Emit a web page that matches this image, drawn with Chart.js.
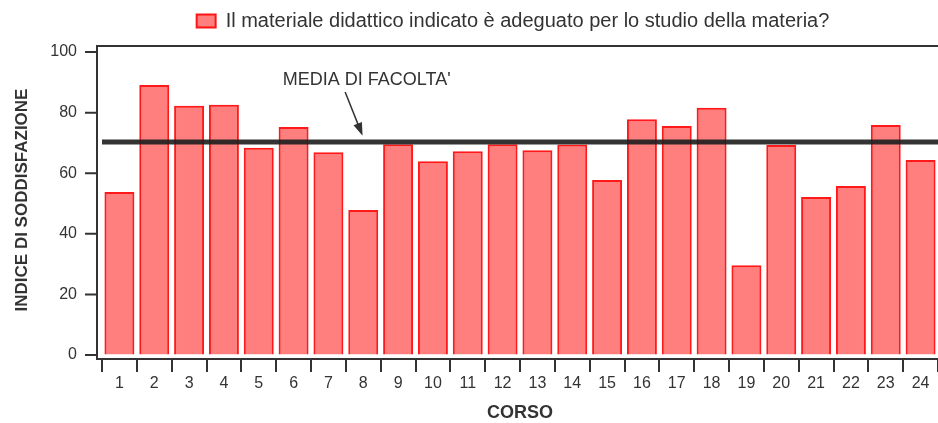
<!DOCTYPE html>
<html>
<head>
<meta charset="utf-8">
<script src="https://cdn.jsdelivr.net/npm/chart.js@4/dist/chart.umd.min.js"></script>
<style>
  body { margin: 0; background: #fff; }
  #wrap { width: 938px; height: 423px; }
</style>
</head>
<body>
<div id="wrap"><canvas id="chart" width="938" height="423"></canvas></div>
<script>
// dati
const corsi = ['1','2','3','4','5','6','7','8','9','10','11','12','13','14','15','16','17','18','19','20','21','22','23','24'];
const indici = [53.8, 89.1, 82.3, 82.6, 68.4, 75.3, 66.9, 47.9, 69.6, 64.0, 67.3, 69.6, 67.6, 69.5, 57.8, 77.8, 75.6, 81.6, 29.6, 69.3, 52.2, 55.8, 75.9, 64.4];
const mediaFacolta = 70.3;
const tickY = [0, 20, 40, 60, 80, 100];
const etichettaMedia = "MEDIA DI FACOLTA'";

const font = '"Liberation Sans", Arial, sans-serif';
const grigio = '#333';

// cornice, linea della media e freccia
const extra = {
  id: 'extra',
  afterDatasetsDraw(chart) {
    const { ctx, chartArea: a, scales: { y } } = chart;
    ctx.save();
    // linea media
    ctx.strokeStyle = 'rgba(30,30,30,0.9)';
    ctx.lineWidth = 5;
    ctx.beginPath();
    ctx.moveTo(a.left, y.getPixelForValue(mediaFacolta));
    ctx.lineTo(a.right, y.getPixelForValue(mediaFacolta));
    ctx.stroke();
    ctx.restore();
  },
  afterDraw(chart) {
    const { ctx, chartArea: a, scales: { x, y } } = chart;
    const ax = a.left - 5;
    const top = y.getPixelForValue(102);
    ctx.save();
    ctx.strokeStyle = grigio;
    ctx.lineWidth = 2;
    ctx.beginPath();
    ctx.moveTo(ax, a.bottom);
    ctx.lineTo(ax, top);
    ctx.lineTo(a.right, top);
    ctx.moveTo(ax - 1, a.bottom);
    ctx.lineTo(a.left, a.bottom);
    tickY.forEach(v => {
      const py = y.getPixelForValue(v);
      ctx.moveTo(ax - 12, py);
      ctx.lineTo(ax, py);
    });
    ctx.stroke();

    // testo e freccia
    ctx.fillStyle = grigio;
    ctx.font = '18px ' + font;
    ctx.textAlign = 'center';
    ctx.textBaseline = 'middle';
    ctx.fillText(etichettaMedia, x.getPixelForValue(7.1), y.getPixelForValue(90.8));
    const x0 = x.getPixelForValue(6.48), y0 = y.getPixelForValue(86.8);
    const x1 = x.getPixelForValue(6.98), y1 = y.getPixelForValue(72.4);
    const ang = Math.atan2(y1 - y0, x1 - x0);
    ctx.lineWidth = 1.5;
    ctx.beginPath();
    ctx.moveTo(x0, y0);
    ctx.lineTo(x1 - 10 * Math.cos(ang), y1 - 10 * Math.sin(ang));
    ctx.stroke();
    ctx.beginPath();
    ctx.moveTo(x1, y1);
    ctx.lineTo(x1 - 13 * Math.cos(ang) + 4.5 * Math.sin(ang), y1 - 13 * Math.sin(ang) - 4.5 * Math.cos(ang));
    ctx.lineTo(x1 - 13 * Math.cos(ang) - 4.5 * Math.sin(ang), y1 - 13 * Math.sin(ang) + 4.5 * Math.cos(ang));
    ctx.closePath();
    ctx.fill();
    ctx.restore();
  }
};

// sposta la legenda verso destra come nell'originale
const spostaLegenda = {
  id: 'spostaLegenda',
  afterLayout(chart) {
    chart.legend.left += 44;
    chart.legend.right += 44;
  }
};

new Chart(document.getElementById('chart'), {
  type: 'bar',
  data: {
    labels: corsi,
    datasets: [{
      label: 'Il materiale didattico indicato è adeguato per lo studio della materia?',
      data: indici,
      backgroundColor: 'rgba(255,0,0,0.5)',
      borderColor: 'rgba(255,0,0,0.9)',
      borderWidth: 2,
      barPercentage: 0.86,
      categoryPercentage: 1
    }]
  },
  options: {
    responsive: false,
    animation: false,
    layout: { padding: { top: 1, right: 0, left: 0, bottom: 0 } },
    plugins: {
      legend: {
        position: 'top',
        labels: {
          boxWidth: 19,
          boxHeight: 13,
          padding: 10,
          color: grigio,
          font: { family: font, size: 20 }
        }
      },
      tooltip: { enabled: false }
    },
    scales: {
      x: {
        afterFit: s => { s.height = 64; },
        grid: {
          display: true,
          offset: true,
          drawOnChartArea: false,
          drawTicks: true,
          tickLength: 13,
          color: grigio,
          lineWidth: 2
        },
        border: { display: true, color: grigio, width: 2 },
        ticks: { color: grigio, padding: 2, font: { family: font, size: 16 } },
        title: {
          display: true,
          text: 'CORSO',
          color: grigio,
          padding: { top: 0, bottom: -1 },
          font: { family: font, size: 18, weight: 'bold' }
        }
      },
      y: {
        min: -1.3,
        max: 103.65,
        afterFit: s => { s.width = 102; },
        afterBuildTicks: s => { s.ticks = tickY.map(v => ({ value: v })); },
        grid: { display: true, drawOnChartArea: false, drawTicks: false },
        border: { display: false },
        ticks: { color: grigio, padding: 25, font: { family: font, size: 16 } },
        title: {
          display: true,
          text: 'INDICE DI SODDISFAZIONE',
          color: grigio,
          padding: { top: 12, bottom: 0 },
          font: { family: font, size: 17, weight: 'bold' }
        }
      }
    }
  },
  plugins: [extra, spostaLegenda]
});
</script>
</body>
</html>
